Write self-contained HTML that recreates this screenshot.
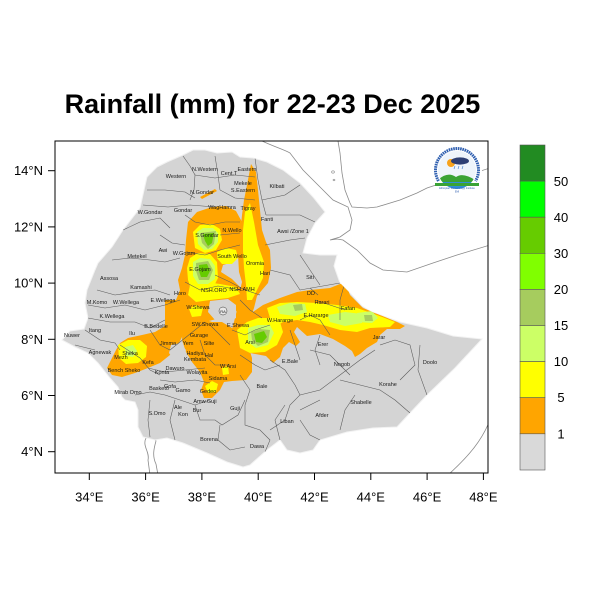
<!DOCTYPE html>
<html><head><meta charset="utf-8"><style>
html,body{margin:0;padding:0;background:#fff;}
svg{display:block;font-family:"Liberation Sans",Arial,sans-serif;}
</style></head><body>
<svg width="600" height="600" viewBox="0 0 600 600" xmlns="http://www.w3.org/2000/svg">
<defs>
<clipPath id="eth"><path id="ethp" d="M157,167 L167,162 L183,155 L193,150 L205,150 L217,153 L232,152 L240,157 L253,158 L267,162 L283,170 L300,183 L313,197 L325,212 L315,223 L307,238 L303,253 L320,255 L337,255 L334,266 L340,283 L350,293 L362,306 L372,312 L400,322 L427,328 L453,336 L482,339 L455,368 L427,395 L410,413 L397,427 L373,428 L347,432 L320,440 L313,450 L300,453 L287,450 L280,440 L267,450 L250,465 L243,467 L227,462 L207,453 L183,443 L167,438 L155,440 L143,437 L138,427 L138,410 L135,402 L125,400 L122,397 L118,387 L110,378 L98,363 L88,353 L75,347 L62,340 L70,331 L84,329 L88,318 L85,303 L87,290 L95,270 L98,263 L112,247 L123,230 L140,208 L147,177 Z"/></clipPath>
<clipPath id="plot"><rect x="55" y="141" width="433" height="332"/></clipPath>
<clipPath id="logoc"><circle cx="457" cy="170" r="19"/></clipPath>
</defs>
<rect width="600" height="600" fill="#fff"/>
<text x="272.5" y="113" font-size="27" font-weight="bold" text-anchor="middle" fill="#000">Rainfall (mm) for 22-23 Dec 2025</text>

<g clip-path="url(#plot)">
<!-- coastlines -->
<g fill="none" stroke="#8a8a8a" stroke-width="0.8">
<path d="M262,141 C275,147 285,150 290,153 L303,170 L320,187 L333,200 L348,207 L352,220 L350,230 L340,237 L330,240 L337,239 L343,240 L357,250 L370,263 L383,270 L407,272 L433,263 L457,255 L490,245"/>
<path d="M338,141 L340,153 L342,173 L345,190 L350,203 L352,207 L367,208 L377,207 L400,200 L417,193 L427,188 L445,182 L465,176 L490,168"/>
<path d="M490,420 C482,440 470,455 448,475"/>
<path d="M146,400 L146,438 C142,446 150,452 148,460 L150,475"/>
<path d="M156,441 C154,448 152,456 156,464 L158,475"/>
<path d="M146,438 C150,436 155,437 156,441"/>
</g>
<ellipse cx="333" cy="172" rx="1.4" ry="1.2" fill="none" stroke="#8a8a8a" stroke-width="0.6"/>
<ellipse cx="334" cy="180" rx="1" ry="0.8" fill="none" stroke="#8a8a8a" stroke-width="0.6"/>

<!-- Ethiopia base -->
<use href="#ethp" fill="#d4d4d4" stroke="#f2f2f2" stroke-width="1"/>

<g clip-path="url(#eth)">
<!-- orange -->
<g fill="#FFA500">
<path d="M188,222 L197,212 L212,207 L226,206 L236,211 L242,222 L243,240 L241,255 L233,262 L223,265 L221,272 L232,279 L241,288 L243,298 L240,308 L232,315 L220,318 L205,322 L190,325 L178,322 L172,315 L176,300 L180,290 L178,280 L182,268 L185,255 L186,240 Z"/>
<path d="M200,197 L215,189 L217,191 L202,199 Z"/>
<path d="M251,164 L256,172 L258,190 L260,210 L262,230 L266,242 L270,250 L271,268 L268,283 L262,290 L257,296 L254,308 L249,322 L242,336 L231,333 L234,322 L237,310 L239,295 L242,282 L239,272 L238,255 L240,235 L242,215 L244,200 L247,185 Z"/>
<path d="M165,300 L180,300 L185,320 L183,335 L178,345 L170,355 L160,363 L148,368 L135,373 L122,377 L112,375 L107,368 L111,360 L116,350 L120,343 L128,338 L142,335 L155,332 L165,326 Z"/>
<path d="M183,315 L200,318 L212,322 L222,322 L232,328 L240,335 L248,345 L252,358 L252,372 L246,380 L232,381 L224,382 L220,390 L212,398 L204,398 L201,390 L204,382 L200,372 L192,362 L186,352 L182,340 Z"/>
<path d="M238,322 L250,314 L263,305 L280,298 L297,292 L310,290 L330,288 L345,282 L350,295 L357,302 L363,308 L380,315 L397,322 L405,326 L400,329 L387,329 L380,335 L377,342 L367,348 L360,354 L355,357 L352,351 L345,346 L333,339 L320,334 L307,336 L297,327 L294,332 L300,342 L296,346 L289,342 L283,348 L280,357 L273,363 L266,356 L250,353 L240,357 L235,350 L232,340 Z"/>
</g>
<!-- gray holes -->
<g fill="#d4d4d4">
<path d="M210,301 L228,299 L236,305 L236,318 L228,322 L215,320 L208,312 Z"/>
<path d="M171,345 L180,343 L186,350 L183,358 L174,360 L169,353 Z"/>
</g>
<!-- yellow -->
<g fill="#FFFF00">
<path d="M193,232 L200,225 L212,224 L220,229 L222,240 L216,250 L205,253 L195,248 Z"/>
<path d="M217,252 L226,248 L236,250 L238,258 L232,264 L222,264 L217,258 Z"/>
<path d="M190,258 L198,253 L210,254 L217,262 L218,278 L212,290 L200,297 L192,292 L188,280 L187,268 Z"/>
<path d="M190,285 L205,282 L220,284 L236,287 L240,294 L228,298 L210,300 L196,302 L188,295 Z"/>
<path d="M189,309 L196,305 L203,308 L201,316 L192,317 Z"/>
<path d="M250,203 L254,222 L258,245 L264,262 L263,278 L257,290 L252,300 L247,300 L246,285 L244,268 L243,250 L243,230 L245,212 Z"/>
<path d="M118,345 L128,340 L140,340 L147,346 L146,357 L138,363 L126,364 L119,358 Z"/>
<path d="M237,330 L247,322 L258,318 L270,318 L280,322 L283,332 L277,345 L265,352 L250,353 L240,348 Z"/>
<path d="M267,308 L280,303 L297,302 L317,303 L337,305 L357,308 L377,315 L395,322 L390,327 L370,328 L357,332 L340,330 L323,325 L310,322 L297,320 L283,322 L273,328 Z"/>
<path d="M205,386 L212,381 L218,384 L216,392 L208,393 Z"/>
<path d="M222,368 L228,366 L229,374 L223,375 Z"/>
</g>
<!-- light green -->
<g fill="#CCFF66">
<path d="M197,232 L203,228 L213,228 L218,233 L218,242 L212,249 L204,250 L198,244 Z"/>
<path d="M193,262 L200,258 L210,259 L215,266 L215,279 L208,284 L198,284 L193,276 Z"/>
<path d="M125,347 L133,345 L137,351 L133,357 L126,356 Z"/>
<path d="M248,328 L258,325 L270,325 L274,333 L268,345 L256,348 L248,342 Z"/>
<path d="M277,307 L290,303 L305,304 L307,312 L295,316 L280,314 Z"/>
<path d="M328,315 L345,312 L362,314 L362,323 L345,326 L330,322 Z"/>
<path d="M357,313 L372,311 L378,318 L372,323 L358,322 Z"/>
</g>
<g fill="#A6CC5E">
<path d="M200,233 L216,231 L214,244 L208,249 L202,243 Z"/>
<path d="M196,263 L208,261 L213,270 L209,280 L199,280 L196,271 Z"/>
<path d="M251,332 L260,329 L270,330 L268,342 L258,346 L252,340 Z"/>
<path d="M293,305 L302,304 L303,310 L295,311 Z"/>
<path d="M364,315 L372,315 L373,321 L365,321 Z"/>
</g>
<g fill="#66CC00">
<path d="M203,234 L214,233 L212,243 L208,246 L205,241 Z"/>
<path d="M199,265 L207,264 L210,271 L207,277 L201,277 L199,271 Z"/>
<path d="M254,334 L264,331 L267,337 L262,343 L256,342 Z"/>
</g>

<!-- internal boundaries -->
<g fill="none" stroke="#5a5a5a" stroke-width="0.55">
<path d="M183,156 L190,166 L195,175 L194,190 L190,200"/>
<path d="M195,175 L215,178 L235,175 L255,177"/>
<path d="M215,156 L218,175 L220,190 L235,198 L255,200"/>
<path d="M255,158 L258,180 L262,200 L266,215"/>
<path d="M262,200 L285,195 L300,185"/>
<path d="M266,215 L300,215 L315,222"/>
<path d="M265,245 L290,240 L305,238"/>
<path d="M270,270 L290,275 L300,290 L340,283"/>
<path d="M147,190 L165,190 L185,192 L195,198"/>
<path d="M143,205 L168,207 L190,205 L215,207"/>
<path d="M185,215 L195,222 L210,225 L225,222 L240,222"/>
<path d="M123,230 L140,222 L160,218 L170,228"/>
<path d="M160,235 L172,243 L185,245"/>
<path d="M112,260 L130,258 L150,260 L165,262 L180,258"/>
<path d="M97,290 L115,295 L135,292 L155,290 L170,295"/>
<path d="M185,282 L200,290 L218,286 L240,290"/>
<path d="M186,252 L205,255 L220,250 L240,245"/>
<path d="M220,235 L240,233"/>
<path d="M215,275 L230,282 L245,290 L260,295"/>
<path d="M88,305 L105,308 L125,305 L145,310 L165,305 L180,300"/>
<path d="M88,318 L110,322 L135,322 L150,328 L165,320"/>
<path d="M85,330 L100,340 L115,343 L120,350"/>
<path d="M75,345 L95,350"/>
<path d="M150,330 L160,345 L170,350 L180,342 L195,330 L205,322"/>
<path d="M120,345 L140,358 L150,370 L160,375"/>
<path d="M148,368 L165,372 L185,370 L205,368"/>
<path d="M160,380 L175,382 L195,380 L210,383"/>
<path d="M135,395 L150,392 L165,395 L180,400 L195,405 L210,400"/>
<path d="M150,400 L148,420 L150,437"/>
<path d="M175,400 L170,420 L175,440"/>
<path d="M195,405 L200,420 L215,420 L222,425 L230,420 L238,415 L245,400"/>
<path d="M220,425 L218,440 L230,450 L245,447"/>
<path d="M240,375 L250,390 L245,405 L245,425 L260,430 L270,440 L265,452"/>
<path d="M270,360 L285,370 L295,385 L300,395 L290,405 L285,420 L270,430"/>
<path d="M300,395 L320,390 L340,375 L360,360 L375,350"/>
<path d="M310,350 L330,355 L340,365 L350,375"/>
<path d="M340,380 L360,385 L380,390 L395,400 L410,413"/>
<path d="M355,395 L345,410 L340,430"/>
<path d="M380,345 L395,340 L410,345 L415,365 L400,380"/>
<path d="M420,345 L418,370 L427,395"/>
<path d="M300,410 L320,400"/>
<path d="M280,440 L275,420 L285,405"/>
<path d="M300,420 L310,435 L320,440"/>
<path d="M300,320 L310,315 L320,320 L330,335"/>
<path d="M315,300 L330,305 L345,310"/>
<path d="M290,330 L295,345 L300,360"/>
<path d="M320,335 L315,350 L320,365"/>
<path d="M300,255 L310,270 L320,285"/>
<path d="M345,282 L340,300 L340,320"/>
<path d="M310,288 L318,295"/>
<path d="M232,330 L245,335 L255,330 L270,325"/>
<path d="M240,355 L255,365 L265,370 L280,365"/>
<path d="M210,325 L220,335 L230,345"/>
<path d="M200,340 L205,355 L215,365 L230,365"/>
<path d="M240,300 L250,310 L262,318"/>
</g>
</g>

<!-- Addis circle -->
<circle cx="223" cy="311" r="4" fill="#e8e8e8" stroke="#333" stroke-width="0.5"/>
<text x="223" y="313" font-size="4" text-anchor="middle" fill="#111">RA</text>

<!-- labels -->
<g font-size="5.5" fill="#1a1a1a" text-anchor="middle">
<text x="205" y="171">N.Western</text><text x="229" y="175">Cent.T</text><text x="247" y="171">Eastern</text>
<text x="176" y="178">Western</text><text x="243" y="185">Mekele</text><text x="243" y="192">S.Eastern</text>
<text x="277" y="188">Kilbati</text><text x="202" y="194">N.Gondar</text><text x="150" y="214">W.Gondar</text>
<text x="183" y="212">Gondar</text><text x="222" y="209">WagHamra</text><text x="248" y="210">Tigray</text>
<text x="267" y="221">Fanti</text><text x="293" y="233">Awsi /Zone 1</text><text x="232" y="232">N.Wello</text>
<text x="207" y="237">S.Gondar</text><text x="137" y="258">Metekel</text><text x="163" y="252">Awi</text>
<text x="184" y="255">W.Gojam</text><text x="232" y="258">South Wello</text><text x="255" y="265">Oromia</text>
<text x="265" y="275">Hari</text><text x="200" y="271">E.Gojam</text><text x="109" y="280">Assosa</text>
<text x="141" y="289">Kamashi</text><text x="310" y="279">Siti</text><text x="180" y="295">Horo</text>
<text x="214" y="292">NSH.ORO</text><text x="242" y="291">NSH.AMH</text><text x="311" y="295">DD</text>
<text x="322" y="304">Harari</text><text x="348" y="310">Fafan</text><text x="97" y="304">M.Komo</text>
<text x="126" y="304">W.Wellega</text><text x="163" y="302">E.Wellega</text><text x="198" y="309">W.Shewa</text>
<text x="112" y="318">K.Wellega</text><text x="280" y="322">W.Hararge</text><text x="316" y="317">E.Hararge</text>
<text x="156" y="328">B.Bedelle</text><text x="205" y="326">SW.Shewa</text><text x="238" y="327">E.Shewa</text>
<text x="95" y="332">Itang</text><text x="132" y="335">Ilu</text><text x="72" y="337">Nuwer</text>
<text x="199" y="337">Gurage</text><text x="168" y="345">Jimma</text><text x="188" y="345">Yem</text>
<text x="209" y="345">Silte</text><text x="100" y="354">Agnewak</text><text x="250" y="344">Arsi</text>
<text x="379" y="339">Jarar</text><text x="323" y="346">Erer</text><text x="130" y="355">Sheka</text>
<text x="121" y="359">Mezh</text><text x="195" y="355">Hadiya</text><text x="209" y="357">Hal</text>
<text x="195" y="361">Kembata</text><text x="148" y="364">Kefa</text><text x="290" y="363">E.Bale</text>
<text x="124" y="372">Bench Sheko</text><text x="162" y="374">Konta</text><text x="175" y="370">Dawuro</text>
<text x="197" y="374">Wolayita</text><text x="228" y="368">W.Arsi</text><text x="342" y="366">Nogob</text>
<text x="218" y="380">Sidama</text><text x="430" y="364">Doolo</text><text x="262" y="388">Bale</text>
<text x="170" y="388">Gofa</text><text x="159" y="390">Basketo</text><text x="128" y="394">Mirab Omo</text>
<text x="183" y="392">Gamo</text><text x="208" y="393">Gedeo</text><text x="388" y="386">Korahe</text>
<text x="205" y="403">Amw.Guji</text><text x="178" y="409">Ale</text><text x="197" y="412">Bur</text>
<text x="183" y="416">Kon</text><text x="235" y="410">Guji</text><text x="157" y="415">S.Omo</text>
<text x="361" y="404">Shabelle</text><text x="287" y="423">Liban</text><text x="322" y="417">Afder</text>
<text x="209" y="441">Borena</text><text x="257" y="448">Dawa</text>
</g>

<!-- logo -->
<g>
<circle cx="457" cy="170" r="25" fill="#fff"/>
<path d="M438.5,181 A21.5,21.5 0 1 1 475.5,181" fill="none" stroke="#2f5fb0" stroke-width="3" stroke-dasharray="1.6 0.7"/>
<g clip-path="url(#logoc)">
<rect x="436" y="150" width="42" height="40" fill="#eef4fb"/>
<circle cx="451" cy="163" r="4" fill="#f7a21b"/>
<ellipse cx="460" cy="161" rx="9" ry="3.6" fill="#2e3f74"/>
<g stroke="#3a78c8" stroke-width="0.6"><line x1="455" y1="166" x2="454" y2="169"/><line x1="459" y1="166" x2="458" y2="169"/><line x1="463" y1="166" x2="462" y2="169"/></g>
<path d="M434,184 Q446,170 456,177 Q464,171 481,184 Z" fill="#3aa335"/>
<path d="M434,182 L481,182 L481,190 L434,190 Z" fill="#2f8fd8"/>
</g>
<rect x="435" y="183" width="44" height="3" fill="#3aa335"/>
<text x="457" y="189" font-size="2.6" text-anchor="middle" fill="#2f5fb0">Ethiopian Meteorology Institute</text>
<text x="457" y="192.5" font-size="2.4" text-anchor="middle" fill="#2f5fb0">EMI</text>
</g>
</g>

<!-- frame -->
<rect x="55" y="141" width="433" height="332" fill="none" stroke="#000" stroke-width="1"/>
<g stroke="#000" stroke-width="1">
<line x1="89.3" y1="473" x2="89.3" y2="480"/><line x1="145.6" y1="473" x2="145.6" y2="480"/>
<line x1="201.9" y1="473" x2="201.9" y2="480"/><line x1="258.2" y1="473" x2="258.2" y2="480"/>
<line x1="314.5" y1="473" x2="314.5" y2="480"/><line x1="370.8" y1="473" x2="370.8" y2="480"/>
<line x1="427.1" y1="473" x2="427.1" y2="480"/><line x1="483.4" y1="473" x2="483.4" y2="480"/>
<line x1="48" y1="170.7" x2="55" y2="170.7"/><line x1="48" y1="226.9" x2="55" y2="226.9"/>
<line x1="48" y1="283.1" x2="55" y2="283.1"/><line x1="48" y1="339.3" x2="55" y2="339.3"/>
<line x1="48" y1="395.5" x2="55" y2="395.5"/><line x1="48" y1="451.7" x2="55" y2="451.7"/>
</g>
<g font-size="13" fill="#000" text-anchor="middle">
<text x="89.3" y="501.5">34°E</text><text x="145.6" y="501.5">36°E</text><text x="201.9" y="501.5">38°E</text>
<text x="258.2" y="501.5">40°E</text><text x="314.5" y="501.5">42°E</text><text x="370.8" y="501.5">44°E</text>
<text x="427.1" y="501.5">46°E</text><text x="483.4" y="501.5">48°E</text>
</g>
<g font-size="13" fill="#000" text-anchor="end">
<text x="43" y="175.2">14°N</text><text x="43" y="231.4">12°N</text><text x="43" y="287.6">10°N</text>
<text x="43" y="343.8">8°N</text><text x="43" y="400">6°N</text><text x="43" y="456.2">4°N</text>
</g>

<!-- colorbar -->
<g stroke="#555" stroke-width="0.6">
<rect x="520" y="145" width="25" height="36.1" fill="#228B22"/>
<rect x="520" y="181.1" width="25" height="36.1" fill="#00FF00"/>
<rect x="520" y="217.2" width="25" height="36.1" fill="#66CC00"/>
<rect x="520" y="253.3" width="25" height="36.1" fill="#80FF00"/>
<rect x="520" y="289.4" width="25" height="36.1" fill="#A6CC5E"/>
<rect x="520" y="325.5" width="25" height="36.1" fill="#CCFF66"/>
<rect x="520" y="361.6" width="25" height="36.1" fill="#FFFF00"/>
<rect x="520" y="397.7" width="25" height="36.1" fill="#FFA500"/>
<rect x="520" y="433.8" width="25" height="36.2" fill="#D9D9D9"/>
</g>
<g font-size="13" fill="#000" text-anchor="middle">
<text x="561" y="186">50</text><text x="561" y="222">40</text><text x="561" y="258">30</text>
<text x="561" y="294">20</text><text x="561" y="330">15</text><text x="561" y="366">10</text>
<text x="561" y="402">5</text><text x="561" y="438.5">1</text>
</g>
</svg>
</body></html>
